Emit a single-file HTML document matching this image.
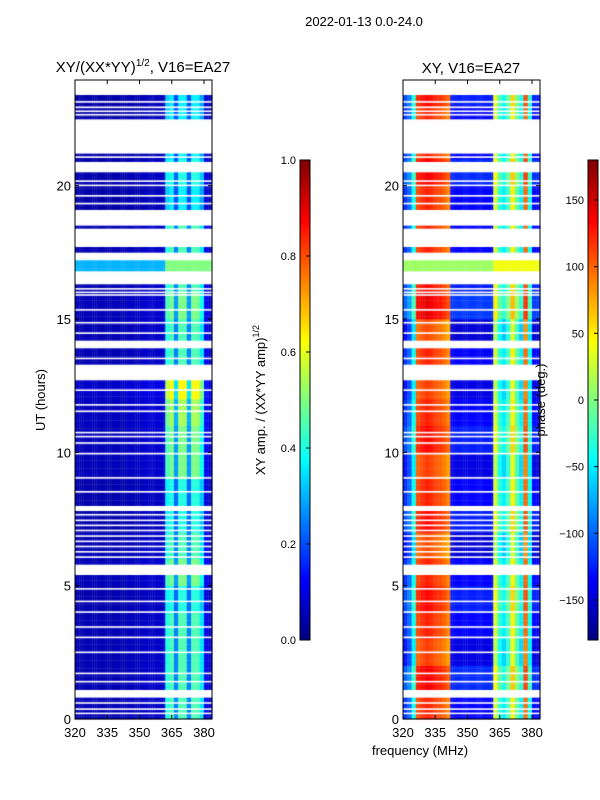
<!DOCTYPE html>
<html><head><meta charset="utf-8"><style>
body{margin:0;background:#fff;font-family:"Liberation Sans",sans-serif;}
#root{position:relative;width:600px;height:800px;overflow:hidden;}
</style></head><body>
<div id="root">
<canvas id="cv" width="600" height="800" style="position:absolute;left:0;top:0"></canvas>
<svg id="sv" width="600" height="800" style="position:absolute;left:0;top:0"></svg>
</div>
<script>
// ---- data ----
const dataBlocks = [[23.45,22.47],[21.22,20.92],[20.5,19.08],[18.52,18.36],[17.65,17.54],[17.16,16.75],[16.3,14.23],[13.93,13.29],[12.73,7.96],[7.81,5.82],[5.37,1.09],[0.75,0.0]];
const whiteLines = [23.14,22.94,22.79,22.66,21.07,20.17,20.01,19.62,19.33,16.13,16.0,15.9,15.34,14.86,14.47,13.52,12.33,11.78,11.54,10.74,10.59,10.35,9.95,9.04,8.52,7.66,7.45,7.26,7.07,6.86,6.66,6.47,6.27,6.07,4.88,4.41,4.01,3.45,3.06,2.5,1.71,1.4,0.6,0.37,0.21];
// amplitude profile per 2-MHz bin, 320..384
const ampFreq = [0.05,0.05,0.05,0.05,0.05,0.05,0.05,0.05,0.05,0.05,0.05,0.05,0.06,0.06,0.06,0.06,0.07,0.07,0.07,0.07,0.07,0.4,0.45,0.25,0.45,0.45,0.25,0.45,0.45,0.35,0.1,0.08];
// amplitude scale per hour bin 0..23
const ampHour = [1.0,1.0,1.0,1.0,0.9,1.1,1.0,0.9,0.9,1.1,1.1,1.2,1.4,1.0,1.0,1.1,1.0,1.0,1.0,0.8,0.9,0.8,0.8,0.8];
// phase profile (deg) per 2-MHz bin
const phaseFreq = [-120,-100,-40,110,120,125,120,115,110,100,90,-135,-135,-135,-135,-135,-135,-135,-135,-135,-135,30,-30,-50,-20,50,-10,-50,100,-40,-135,-135];
// phase offset per hour bin 0..23
const phaseHour = [0,15,-10,0,10,0,-15,10,0,-10,10,0,-10,0,-15,20,10,0,0,0,15,0,0,10];
const specialRow = [16.75,17.16];

const ampTicks=[0.0,0.2,0.4,0.6,0.8,1.0];
const phTicks=[-150,-100,-50,0,50,100,150];
const freqTicks=[320,335,350,365,380];
const hourTicks=[0,5,10,15,20];

// ---- scales ----
const Y0=719,Y1=79;
const yH=h=>Y0-(Y0-Y1)*h/24;
const xF1=f=>75+(f-320)*2.15;
const xF2=f=>403+(f-320)*2.15;
const FMAX=383.7;
function jet(v){v=Math.max(0,Math.min(1,v));
 const r=Math.max(0,Math.min(1,1.5-Math.abs(4*v-3)));
 const g=Math.max(0,Math.min(1,1.5-Math.abs(4*v-2)));
 const b=Math.max(0,Math.min(1,1.5-Math.abs(4*v-1)));
 return `rgb(${Math.round(r*255)},${Math.round(g*255)},${Math.round(b*255)})`;}
const inData=h=>dataBlocks.some(b=>h<=b[0]&&h>=b[1]);
const ctx=document.getElementById('cv').getContext('2d');
const dh=0.1, df=1;
for(let h=0;h<24;h+=dh){
 const hc=h+dh/2; if(!inData(hc)) continue;
 const hi=Math.min(23,Math.floor(hc));
 const special=hc>=specialRow[0]&&hc<=specialRow[1];
 for(let f=320;f<FMAX;f+=df){
  const fi=Math.min(ampFreq.length-1,Math.floor((f-320)/2));
  let a=ampFreq[fi]*ampHour[hi]; if(special) a=f<362?0.3:0.5;
  let p=phaseFreq[fi]+phaseHour[hi]; if(special) p=f<362?10:40;
  p=Math.max(-175,Math.min(175,p));
  const ya=yH(hc+dh/2), yb=yH(hc-dh/2), fe=Math.min(FMAX,f+df);
  ctx.fillStyle=jet(a);
  ctx.fillRect(xF1(f),ya,xF1(fe)-xF1(f)+0.3,yb-ya+0.3);
  ctx.fillStyle=jet((p+180)/360);
  ctx.fillRect(xF2(f),ya,xF2(fe)-xF2(f)+0.3,yb-ya+0.3);
 }
}
ctx.fillStyle='#fff';
for(const w of whiteLines){const y=yH(w);ctx.fillRect(75,y-0.8,137,1.6);ctx.fillRect(403,y-0.8,137,1.6);}
for(let y=160;y<640;y++){const v=(640-y)/480;ctx.fillStyle=jet(v);ctx.fillRect(300,y,10,1);ctx.fillRect(588,y,10,1);}

// ---- svg overlay ----
const NS='http://www.w3.org/2000/svg', sv=document.getElementById('sv');
function el(t,a,txt){const e=document.createElementNS(NS,t);for(const k in a)e.setAttribute(k,a[k]);if(txt!==undefined)e.textContent=txt;sv.appendChild(e);return e;}
function txt(x,y,s,size,anchor,name,rot){const e=el('text',{x:x,y:y,'font-size':size,'text-anchor':anchor||'middle','font-family':'Liberation Sans, sans-serif',fill:'#000'});
 e.innerHTML=s; if(rot)e.setAttribute('transform',`rotate(-90 ${x} ${y})`);
 
 return e;}
[[75,'left'],[403,'right']].forEach(([x0,nm])=>{
 const r=el('rect',{x:x0,y:80,width:137,height:639,fill:'none',stroke:'#000','stroke-width':1});
 
 
 const xf=nm==='left'?xF1:xF2;
 freqTicks.forEach(f=>{const x=xf(f);
  el('line',{x1:x,x2:x,y1:719,y2:715,stroke:'#000'});el('line',{x1:x,x2:x,y1:80,y2:84,stroke:'#000'});
  txt(x,737,f,13,'middle',nm+'-x-tick-label');});
 hourTicks.forEach(h=>{const y=yH(h);
  el('line',{x1:x0,x2:x0+4,y1:y,y2:y,stroke:'#000'});el('line',{x1:x0+133,x2:x0+137,y1:y,y2:y,stroke:'#000'});
  txt(x0-4,y+5,h,13,'end',nm+'-y-tick-label');});
});
[[300,ampTicks,v=>640-v*480,v=>v.toFixed(1),'amp'],[588,phTicks,v=>400-v*480/360,v=>String(v).replace('-','\u2212'),'phase']].forEach(([x0,ticks,sc,fmt,nm])=>{
 const r=el('rect',{x:x0,y:160,width:10,height:480,fill:'none',stroke:'#000'});
 
 
 ticks.forEach(v=>{const y=sc(v);el('line',{x1:x0+6,x2:x0+10,y1:y,y2:y,stroke:'#000'});
  txt(x0-4,y+4,fmt(v),11,'end',nm+'-colorbar-tick');});
});
txt(364,26,'2022-01-13 0.0-24.0',13,'middle','figure-title');
txt(143,72,'XY/(XX*YY)<tspan font-size="10" dy="-6">1/2</tspan><tspan dy="6">, V16=EA27</tspan>',15,'middle','left-plot-title');
txt(471,73,'XY, V16=EA27',15,'middle','right-plot-title');
txt(45,400,'UT (hours)',13,'middle','y-axis-title',true);
txt(420,755,'frequency (MHz)',13,'middle','x-axis-title');
txt(265,400,'XY amp. / (XX*YY amp)<tspan font-size="9" dy="-6">1/2</tspan>',13,'middle','amp-colorbar-label',true);
txt(545,400,'phase (deg.)',13,'middle','phase-colorbar-label',true);
</script>
</body></html>
